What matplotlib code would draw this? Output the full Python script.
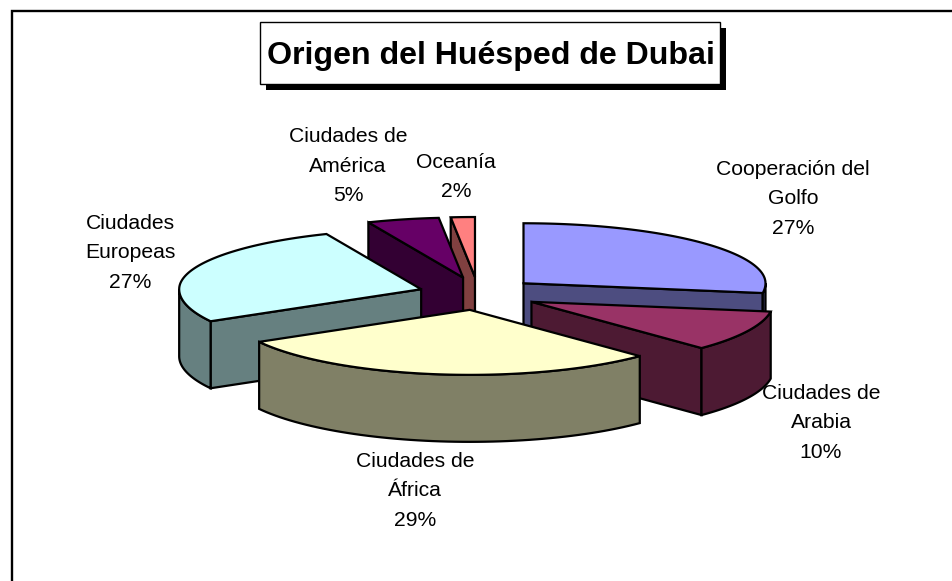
import numpy as np
import matplotlib
matplotlib.use('Agg')
import matplotlib.pyplot as plt
from matplotlib.patches import Polygon, Rectangle

title = 'Origen del Huésped de Dubai'
names = ['Cooperación del\nGolfo', 'Ciudades de\nArabia', 'Ciudades de\nÁfrica',
         'Ciudades\nEuropeas', 'Ciudades de\nAmérica', 'Oceanía']
values = [27.4, 10.2, 29.2, 26.8, 4.8, 1.6]
top_colors = ['#9999FF', '#993366', '#FFFFCC', '#CCFFFF', '#660066', '#FF8080']
side_colors = ['#4D4D80', '#4D1A33', '#808066', '#668080', '#330033', '#804040']
# label centres in pixels
label_pos = [(793, 199), (821, 423), (415, 491), (130, 253), (348, 166), (456, 177)]
# back to front
draw_order = [5, 4, 0, 3, 1, 2]

cx, cy = 478, 295      # pie centre
rx = 242
ry_back, ry_front = 60, 65
kx = 60                # explosion offset
ky_back, ky_front = 18, 15
depth = 67

plt.rcParams['font.family'] = ['Liberation Sans', 'DejaVu Sans']

fig = plt.figure(figsize=(9.53, 5.81), dpi=100)
ax = fig.add_axes([0, 0, 1, 1])
ax.set_xlim(0, 953)
ax.set_ylim(581, 0)
ax.axis('off')

# chart frame, bottom and right are cropped away
ax.plot([12, 12, 953], [581, 10.5, 10.5], color='black', lw=1.7, solid_joinstyle='miter', zorder=1)


def point(x0, y0, a):
    # the far half of the pie looks a little flatter than the near half
    c = np.cos(a)
    return x0 + rx * np.sin(a), y0 - np.where(c > 0, ry_back, ry_front) * c


def draw_slice(i, start, end, z):
    a0 = np.radians(start)
    a1 = np.radians(end)
    mid = (a0 + a1) / 2
    px = cx + kx * np.sin(mid)
    py = cy - (ky_back if np.cos(mid) > 0 else ky_front) * np.cos(mid)

    ts = np.linspace(a0, a1, 80)
    xs, ys = point(px, py, ts)
    line = dict(facecolor=side_colors[i], edgecolor='black', lw=1.6, joinstyle='miter')

    # flat side faces, only when they turn to the viewer
    for a, normal in [(a0, a0 - np.pi / 2), (a1, a1 + np.pi / 2)]:
        if np.cos(normal) < -0.001:
            ex, ey = point(px, py, a)
            ax.add_patch(Polygon([(px, py), (ex, ey), (ex, ey + depth), (px, py + depth)],
                                 zorder=z, **line))

    # outer rim, front half only
    lo = max(a0, np.pi / 2)
    hi = min(a1, 3 * np.pi / 2)
    if hi > lo:
        tr = np.linspace(lo, hi, 60)
        rxs, rys = point(px, py, tr)
        verts = list(zip(rxs, rys)) + list(zip(rxs[::-1], rys[::-1] + depth))
        ax.add_patch(Polygon(verts, zorder=z, **line))

    verts = [(px, py)] + list(zip(xs, ys))
    ax.add_patch(Polygon(verts, zorder=z, facecolor=top_colors[i], edgecolor='black',
                         lw=1.6, joinstyle='miter'))


edges = np.cumsum([0] + values) / sum(values) * 360
for n, i in enumerate(draw_order):
    draw_slice(i, edges[i], edges[i + 1], 2 + n)

for name, v, (lx, ly) in zip(names, values, label_pos):
    ax.text(lx, ly, '%s\n%d%%' % (name, round(v)), ha='center', va='center', fontsize=15.2,
            linespacing=1.7, color='black', zorder=20)

# title box with drop shadow
ax.add_patch(Rectangle((266, 28), 460, 62, facecolor='black', edgecolor='none', zorder=21))
ax.add_patch(Rectangle((260, 22), 460, 62, facecolor='white', edgecolor='black', lw=1, zorder=22))
ax.text(491, 56, title, ha='center', va='center', fontsize=23.1, fontweight='bold',
        color='black', zorder=23)

fig.savefig('out.png', dpi=100)
